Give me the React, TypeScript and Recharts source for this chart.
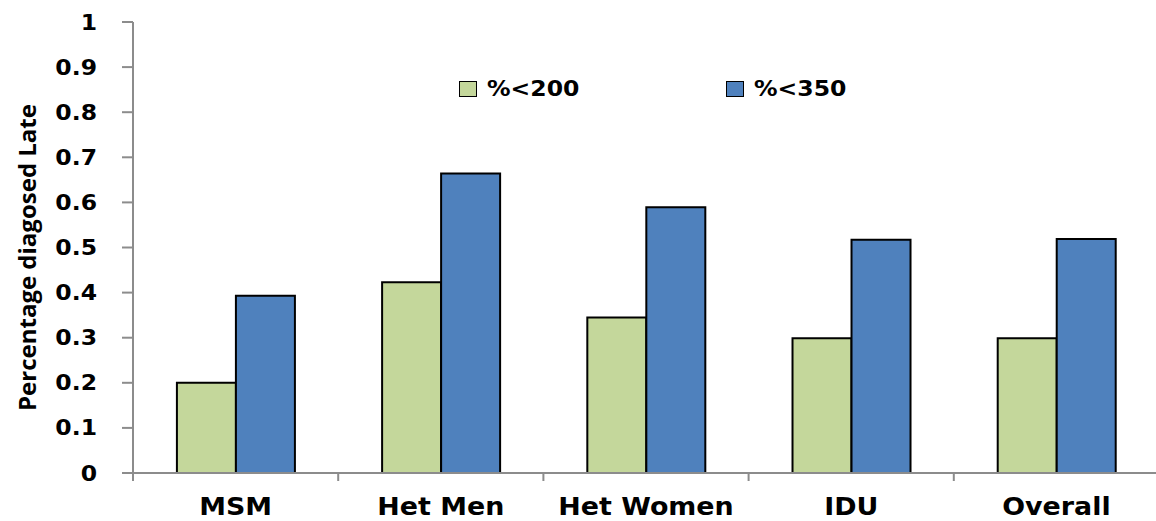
import { BarChart, Bar, XAxis, YAxis, Label } from "recharts";

const categories = ["MSM", "Het Men", "Het Women", "IDU", "Overall"];
const under200 = [0.2, 0.423, 0.345, 0.299, 0.299];
const under350 = [0.393, 0.664, 0.589, 0.517, 0.519];
const yTicks = [0, 0.1, 0.2, 0.3, 0.4, 0.5, 0.6, 0.7, 0.8, 0.9, 1];
const seriesNames = ["%<200", "%<350"];

const data = categories.map((name, i) => ({ name, under200: under200[i], under350: under350[i] }));

const GREEN = "#C4D79B";
const BLUE = "#4F81BD";
const AXIS = "#8c8c8c";
const FONT = "'DejaVu Sans', Verdana, sans-serif";
// the original picture is a bit stretched sideways
const STRETCH = 1.12;

function CategoryTick(props: any) {
  const { x, y, payload, index, visibleTicksCount } = props;
  const off = payload?.offset ?? 0;
  const left = x - off;
  return (
    <g>
      <line x1={left} y1={y} x2={left} y2={y + 8} stroke={AXIS} strokeWidth={2} />
      {index === visibleTicksCount - 1 && (
        <line x1={x + off} y1={y} x2={x + off} y2={y + 8} stroke={AXIS} strokeWidth={2} />
      )}
      <text
        transform={`translate(${x}, ${y + 42}) scale(${STRETCH}, 1)`}
        textAnchor="middle"
        fontFamily={FONT}
        fontWeight="bold"
        fontSize={24}
        fill="#000"
      >
        {payload.value}
      </text>
    </g>
  );
}

function ValueTick(props: any) {
  const { x, y, payload } = props;
  return (
    <text
      transform={`translate(${x}, ${y}) scale(${STRETCH}, 1)`}
      textAnchor="end"
      dominantBaseline="central"
      fontFamily={FONT}
      fontWeight="bold"
      fontSize={21}
      fill="#000"
    >
      {payload.value}
    </text>
  );
}

// legend drawn as an overlay so it doesn't push the plot area down
function LegendBox() {
  const colors = [GREEN, BLUE];
  return (
    <div
      style={{
        position: "absolute",
        left: 459,
        top: 77,
        display: "flex",
        fontFamily: FONT,
        fontWeight: "bold",
        fontSize: 21,
      }}
    >
      {seriesNames.map((label, i) => (
        <div key={label} style={{ display: "flex", alignItems: "center", width: 267 }}>
          <span
            style={{
              display: "inline-block",
              width: 16,
              height: 14,
              background: colors[i],
              border: "1px solid #000",
              marginRight: 10,
            }}
          />
          <span style={{ display: "inline-block", transform: `scaleX(${STRETCH})`, transformOrigin: "left center" }}>
            {label}
          </span>
        </div>
      ))}
    </div>
  );
}

export default function App() {
  return (
    <div style={{ position: "absolute", left: 0, top: 0, width: 1156, height: 521, overflow: "hidden", background: "#fff" }}>
      <BarChart
        width={1170}
        height={521}
        data={data}
        margin={{ top: 22, right: 11, bottom: 0, left: 0 }}
        barCategoryGap="21.4%"
        barGap={0}
      >
        <XAxis
          dataKey="name"
          height={48}
          axisLine={{ stroke: AXIS, strokeWidth: 2 }}
          tickLine={false}
          tickSize={0}
          tickMargin={0}
          tick={<CategoryTick />}
          interval={0}
        />
        <YAxis
          width={133}
          domain={[0, 1]}
          ticks={yTicks}
          interval={0}
          axisLine={{ stroke: AXIS, strokeWidth: 2 }}
          tickLine={{ stroke: AXIS, strokeWidth: 2 }}
          tickSize={11}
          tickMargin={25}
          tick={<ValueTick />}
        >
          <Label
            content={({ viewBox }: any) => {
              const cx = (viewBox?.x ?? 0) + 26;
              const cy = (viewBox?.y ?? 0) + (viewBox?.height ?? 0) / 2 + 10;
              return (
                <text
                  x={cx}
                  y={cy}
                  transform={`rotate(-90, ${cx}, ${cy})`}
                  textAnchor="middle"
                  dominantBaseline="central"
                  fontFamily="'Liberation Sans Narrow', 'Open Sans', sans-serif"
                  fontWeight="bold"
                  fontSize={24}
                  fill="#000"
                >
                  Percentage diagosed Late
                </text>
              );
            }}
          />
        </YAxis>
        <Bar dataKey="under200" name={seriesNames[0]} fill={GREEN} stroke="#000" strokeWidth={2} isAnimationActive={false} />
        <Bar dataKey="under350" name={seriesNames[1]} fill={BLUE} stroke="#000" strokeWidth={2} isAnimationActive={false} />
      </BarChart>
      <LegendBox />
    </div>
  );
}
